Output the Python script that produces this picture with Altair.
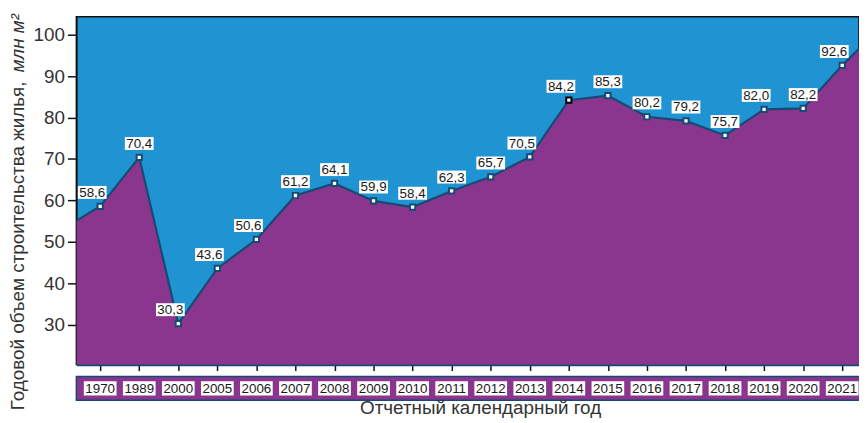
import altair as alt
import pandas as pd

# ---- data ----
years = ["1970", "1989", "2000", "2005", "2006", "2007", "2008", "2009", "2010", "2011",
         "2012", "2013", "2014", "2015", "2016", "2017", "2018", "2019", "2020", "2021"]
values = [58.6, 70.4, 30.3, 43.6, 50.6, 61.2, 64.1, 59.9, 58.4, 62.3,
          65.7, 70.5, 84.2, 85.3, 80.2, 79.2, 75.7, 82.0, 82.2, 92.6]
# the filled curve continues to the frame on both sides
edge_left_value = 55.1
edge_right_value = 96.6
highlight_year = "2014"
left_shifted_labels = ["1970", "2000", "2005", "2006", "2013", "2014", "2019", "2021"]

y_ticks = [30, 40, 50, 60, 70, 80, 90, 100]
x_title = "Отчетный календарный год"
y_title_regular = "Годовой объем строительства жилья,"
y_title_italic = "млн м²"

# ---- style ----
BLUE = "#2094d2"
PURPLE = "#8a358e"
NAVY = "#174a73"
W, H = 790, 351
X_DOMAIN = [-0.61, 19.43]
Y_DOMAIN = [20.4, 104.3]
FONT = "Liberation Sans"
TITLE_SIZE = 19

idx = list(range(len(years)))
df = pd.DataFrame({
    "i": idx,
    "year": years,
    "value": values,
    "label": [f"{v:.1f}".replace(".", ",") for v in values],
    "hl": [y == highlight_year for y in years],
    "shift": [y in left_shifted_labels for y in years],
})
curve = pd.concat([
    pd.DataFrame({"i": [X_DOMAIN[0]], "value": [edge_left_value]}),
    df[["i", "value"]],
    pd.DataFrame({"i": [X_DOMAIN[1]], "value": [edge_right_value]}),
], ignore_index=True)

xs = alt.Scale(domain=X_DOMAIN, nice=False, zero=False)
ys = alt.Scale(domain=Y_DOMAIN, nice=False, zero=False)

x_axis = alt.Axis(values=idx, labels=False, ticks=True, tickSize=6, tickWidth=1.5,
                  tickColor="#111", domainColor=NAVY, domainWidth=2.5, grid=False, title=None)
y_axis = alt.Axis(values=y_ticks, tickSize=9, tickWidth=1.5, tickColor="#111",
                  domainColor="#111", domainWidth=1.5, grid=False, labelFontSize=19,
                  labelColor="#333", labelFont=FONT, labelPadding=3, title=None)

X = alt.X("i:Q", scale=xs, axis=x_axis)
Y = alt.Y("value:Q", scale=ys, axis=y_axis)

base_curve = alt.Chart(curve)
area = base_curve.mark_area(color=PURPLE, clip=True).encode(x=X, y=Y, y2=alt.value(H))
line = base_curve.mark_line(color=NAVY, strokeWidth=2.2, clip=True).encode(x=X, y=Y)

base = alt.Chart(df)
points = base.mark_square(fill="white", size=28, strokeWidth=2, opacity=1).encode(
    x=X, y=Y,
    stroke=alt.condition(alt.datum.hl, alt.value("black"), alt.value(NAVY)),
)

BOX = "M-1,-0.45L1,-0.45L1,0.45L-1,0.45Z"
label_layers = []
for shifted, dx in [(False, 0), (True, -8)]:
    sub = base.transform_filter(alt.datum.shift == shifted)
    label_layers.append(sub.mark_point(shape=BOX, filled=True, color="white", opacity=1,
                                       size=841, xOffset=dx, yOffset=-14).encode(x=X, y=Y))
    label_layers.append(sub.mark_text(font=FONT, fontSize=13.5, color="#1a1a1a", baseline="middle",
                                      xOffset=dx, yOffset=-13.5).encode(x=X, y=Y, text="label:N"))

band = alt.Chart(pd.DataFrame({"k": [0]})).mark_rect(fill=PURPLE, stroke=NAVY, strokeWidth=1.5).encode(
    x=alt.value(0), x2=alt.value(W + 2), y=alt.value(H + 12), y2=alt.value(H + 36))
YEAR_BOX = "M-1,-0.43L1,-0.43L1,0.43L-1,0.43Z"
year_boxes = base.mark_point(shape=YEAR_BOX, filled=True, color="white", opacity=1, size=1089).encode(
    x=X, y=alt.value(H + 24))
year_text = base.mark_text(font=FONT, fontSize=13.5, color="#1a1a1a", baseline="middle").encode(
    x=X, y=alt.value(H + 24.5), text="year:N")

one = alt.Chart(pd.DataFrame({"k": [0]}))
xt = one.mark_text(font=FONT, fontSize=TITLE_SIZE, color="#333", baseline="alphabetic", align="center").encode(
    x=alt.value(408), y=alt.value(H + 50), text=alt.value(x_title))
yt1 = one.mark_text(font=FONT, fontSize=TITLE_SIZE, color="#333", baseline="middle", align="left", angle=270).encode(
    x=alt.value(-59), y=alt.value(397), text=alt.value(y_title_regular))
yt2 = one.mark_text(font=FONT, fontSize=TITLE_SIZE, color="#333", baseline="middle", align="left", angle=270,
                    fontStyle="italic").encode(
    x=alt.value(-59), y=alt.value(56), text=alt.value(y_title_italic))

chart = alt.layer(area, line, points, *label_layers, band, year_boxes, year_text, xt, yt1, yt2).properties(
    width=W, height=H,
    autosize=alt.AutoSizeParams(type="none"),
    padding={"left": 69, "top": 7, "right": 0, "bottom": 57},
).configure_view(fill=BLUE, stroke="#111", strokeWidth=1.5)

chart.save("out.html", embed_options={"renderer": "svg", "actions": False})
